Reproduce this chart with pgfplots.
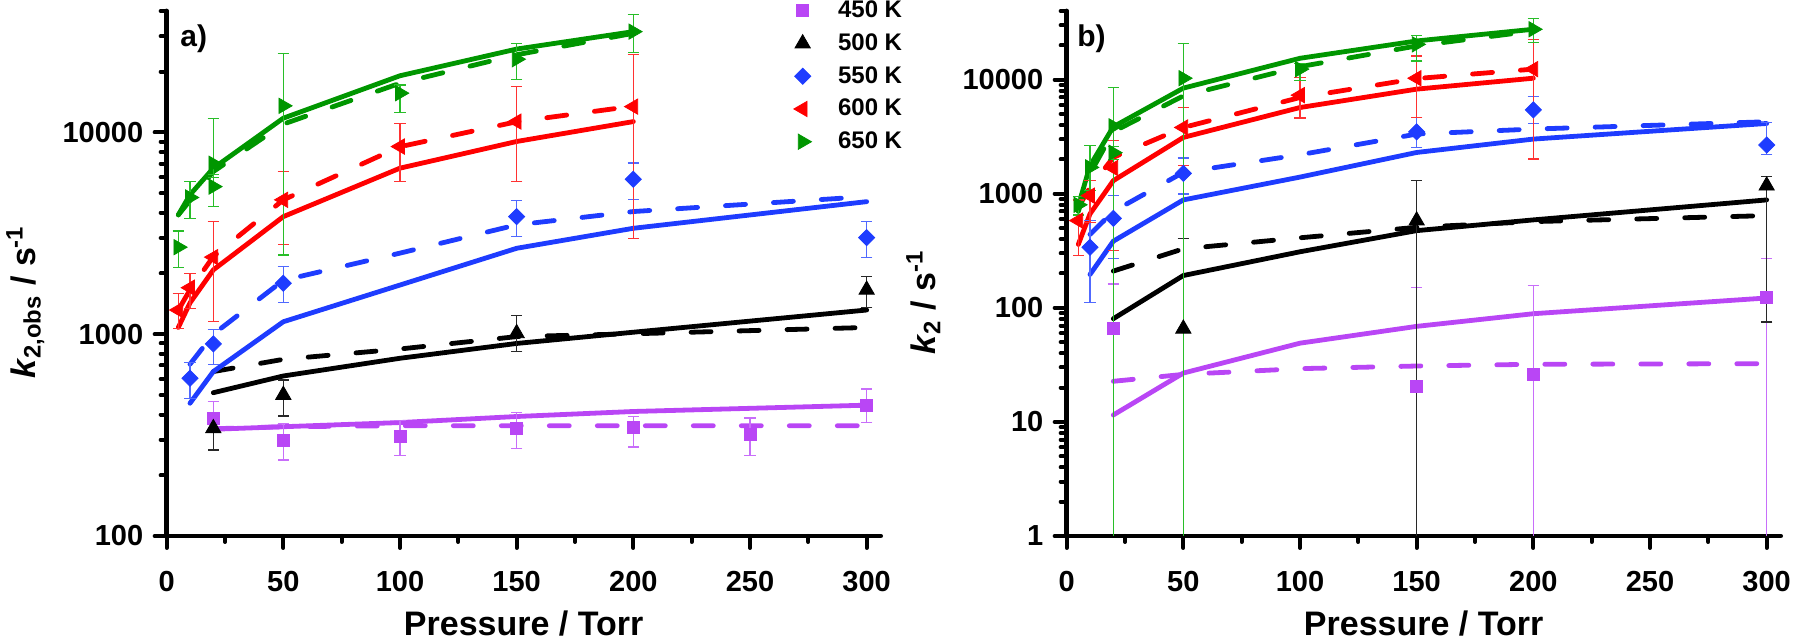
\documentclass[border=0pt]{standalone}
\usepackage{fontspec}
\setmainfont{Liberation Sans}
\usepackage{pgfplots}
\pgfplotsset{compat=1.18}
\definecolor{cP}{RGB}{185,70,245}
\definecolor{cPe}{RGB}{200,110,250}
\definecolor{cK}{RGB}{0,0,0}
\definecolor{cKe}{RGB}{40,40,40}
\definecolor{cB}{RGB}{30,60,255}
\definecolor{cBe}{RGB}{80,105,255}
\definecolor{cR}{RGB}{255,0,0}
\definecolor{cRe}{RGB}{255,50,50}
\definecolor{cG}{RGB}{0,150,0}
\definecolor{cGe}{RGB}{40,190,40}
\pgfplotsset{
  kax/.style={
    scale only axis, width=357pt, height=262.5pt,
    xmin=0, xmax=306,
    axis x line=bottom, axis y line=left,
    axis line style={-, line width=2.4pt, line cap=round},
    tick align=outside, major tick length=6pt, minor tick length=3pt,
    tick style={line width=2pt, line cap=round, black},
    xtick={0,50,100,150,200,250,300},
    xticklabels={0,50,100,150,200,250,300},
    minor xtick={25,75,125,175,225,275},
    ticklabel style={font=\fontsize{14.5}{17}\selectfont\bfseries, inner sep=0pt},
    xticklabel style={anchor=north, yshift=-11.5pt},
    yticklabel style={anchor=east, xshift=-5.5pt},
    xlabel={Pressure / Torr},
    label style={font=\fontsize{17}{20}\selectfont\bfseries},
    xlabel style={at={(axis description cs:0.5,-0.189)}, anchor=base},
    ylabel style={at={(axis description cs:-0.184,0.445)}, anchor=base},
  },
  kln/.style={line width=2.4pt, mark=none, forget plot, line cap=round, line join=round},
  kdl/.style={line width=2.4pt, mark=none, forget plot, line cap=round, dash pattern=on 10pt off 14pt},
  keb/.style={only marks,
    error bars/y dir=both, error bars/y explicit,
    error bars/error bar style={#1, line width=0.6pt},
    error bars/error mark options={#1, rotate=90, mark size=2.8pt, line width=0.6pt}},
}
\begin{document}
\begin{tikzpicture}
\useasboundingbox (0,0) rectangle (898pt,320pt);
% ---------------- panel a ----------------
\begin{semilogyaxis}[kax, at={(83.33pt,52pt)}, anchor=south west,
  ymin=100, ymax=40000,
  ytick={100,1000,10000}, yticklabels={100,1000,10000},
  minor ytick={200,300,400,500,600,700,800,900,2000,3000,4000,5000,6000,7000,8000,9000,20000,30000,40000},
  ylabel={\textit{k}\textsubscript{2,obs} / s\textsuperscript{-1}},
  legend style={at={(axis description cs:1.032,1.022)}, anchor=north east,
    draw=none, fill=none, inner sep=0pt, row sep=5.5pt,
    font=\fontsize{12}{14}\selectfont\bfseries, nodes={inner sep=0.5pt}},
  legend cell align=left,
  legend image code/.code={\draw[#1] plot coordinates {(0pt,0pt)}; \path (-4pt,0pt) (17pt,0pt);},
]
% lines
\addplot[cP, kln] coordinates {(20,338) (50,348) (100,365) (150,391) (200,414) (300,445)};
\addplot[cP, kdl] coordinates {(20,340) (50,348) (100,352) (150,352) (200,352) (300,352)};
\addplot[cK, kln] coordinates {(20,513) (50,621) (100,760) (150,900) (200,1023) (300,1318)};
\addplot[cK, kdl] coordinates {(20,653) (50,751) (100,845) (150,973) (200,1005) (300,1080)};
\addplot[cB, kln] coordinates {(10,455) (20,653) (50,1153) (100,1753) (150,2666) (200,3350) (300,4540)};
\addplot[cB, kdl] coordinates {(10,710) (20,1000) (50,1850) (100,2523) (150,3484) (200,4055) (300,4808)};
\addplot[cR, kln] coordinates {(5,1080) (10,1430) (20,2084) (50,3827) (100,6653) (150,9020) (200,11320)};
\addplot[cR, kdl] coordinates {(5,1318) (10,1660) (20,2427) (50,4635) (100,8500) (150,11300) (200,13500)};
\addplot[cG, kln] coordinates {(5,3908) (10,4910) (20,6650) (50,11770) (100,19100) (150,25900) (200,31600)};
\addplot[cG, kdl] coordinates {(5,3900) (10,4600) (20,6400) (50,11000) (100,17540) (150,24270) (200,31000)};
% marks
\addplot[cP, mark=square*, mark size=3pt, keb=cPe] table[x=x, y=y, y error plus=ep, y error minus=em] {
x y ep em
20 384 79 54
50 299 61 61
100 313 60 63
150 342 66 71
200 346 44 70
250 318 66 67
300 445 90 80
};
\addlegendentry{450 K}
\addplot[cK, mark=triangle*, mark size=4.4pt, keb=cKe] table[x=x, y=y, y error plus=ep, y error minus=em] {
x y ep em
20 342 60 75
50 500 93 107
150 1011 225 191
300 1660 271 300
};
\addlegendentry{500 K}
\addplot[cB, mark=square*, mark size=2.85pt, mark options={rotate=45}, keb=cBe] table[x=x, y=y, y error plus=ep, y error minus=em] {
x y ep em
10 605 117 125
20 895 164 185
50 1790 373 354
150 3826 755 777
200 5864 1186 1198
300 3013 602 602
};
\addlegendentry{550 K}
\addplot[cR, mark=triangle*, mark size=4.4pt, mark options={rotate=90}, keb=cRe] table[x=x, y=y, y error plus=ep, y error minus=em] {
x y ep em
5 1318 279 246
10 1700 304 355
20 2410 1204 1257
50 4635 1765 1861
100 8515 2605 2795
150 11320 5580 5600
200 13430 10870 10436
};
\addlegendentry{600 K}
\addplot[cG, mark=triangle*, mark size=4.4pt, mark options={rotate=-90}, keb=cGe] table[x=x, y=y, y error plus=ep, y error minus=em] {
x y ep em
5 2700 550 563
10 4760 960 1003
20 7000 4770 1000
20 5390 800 1090
50 13550 11150 11078
100 15660 1540 3100
150 23070 4630 4830
200 31600 6700 6700
};
\addlegendentry{650 K}
\node[anchor=north west, inner sep=0pt, font=\fontsize{15}{18}\selectfont\bfseries] at (axis description cs:0.0186,0.975) {a)};
\end{semilogyaxis}
% ---------------- panel b ----------------
\begin{semilogyaxis}[kax, at={(533.33pt,52pt)}, anchor=south west,
  ymin=1, ymax=40000,
  ytick={1,10,100,1000,10000}, yticklabels={1,10,100,1000,10000},
  minor ytick={2,3,4,5,6,7,8,9,20,30,40,50,60,70,80,90,200,300,400,500,600,700,800,900,2000,3000,4000,5000,6000,7000,8000,9000,20000,30000,40000},
  ylabel={\textit{k}\textsubscript{2} / s\textsuperscript{-1}},
]
\addplot[cP, kln] coordinates {(20,11.5) (50,26.8) (100,49) (150,68.8) (200,88.8) (300,122)};
\addplot[cP, kdl] coordinates {(20,22.7) (50,26.1) (100,29.3) (150,30.9) (200,32) (300,32.4)};
\addplot[cK, kln] coordinates {(20,80.3) (50,192) (100,310) (150,475) (200,590) (300,883)};
\addplot[cK, kdl] coordinates {(20,210) (50,329) (100,411) (150,508) (200,570) (300,643)};
\addplot[cB, kln] coordinates {(10,196) (20,384) (50,883) (100,1400) (150,2301) (200,3015) (300,4130)};
\addplot[cB, kdl] coordinates {(10,440) (20,700) (50,1540) (100,2198) (150,3336) (200,3690) (300,4276)};
\addplot[cR, kln] coordinates {(5,360) (10,666) (20,1303) (50,3118) (100,5700) (150,8260) (200,10300)};
\addplot[cR, kdl] coordinates {(5,760) (10,1138) (20,2084) (50,3811) (100,6980) (150,10230) (200,12370)};
\addplot[cG, kln] coordinates {(5,786) (10,1762) (20,3866) (50,8430) (100,15400) (150,21850) (200,27660)};
\addplot[cG, kdl] coordinates {(5,700) (10,1500) (20,3500) (50,7210) (100,13000) (150,19770) (200,26700)};
\addplot[cP, mark=square*, mark size=3pt, keb=cPe] table[x=x, y=y, y error plus=ep, y error minus=em] {
x y ep em
20 65.6 96 65.1
150 20.5 129.5 20
200 26.2 131 25.7
300 124 145 123.5
};
\addplot[cK, mark=triangle*, mark size=4.4pt, keb=cKe] table[x=x, y=y, y error plus=ep, y error minus=em] {
x y ep em
50 65.6 341 65.1
150 582 721 581.5
300 1178 250 1103
};
\addplot[cB, mark=square*, mark size=2.85pt, mark options={rotate=45}, keb=cBe] table[x=x, y=y, y error plus=ep, y error minus=em] {
x y ep em
10 340 242 228
20 609 353 337
50 1509 546 514
150 3492 1174 946
200 5444 1636 1344
300 2673 1544 475
};
\addplot[cR, mark=triangle*, mark size=4.4pt, mark options={rotate=90}, keb=cRe] table[x=x, y=y, y error plus=ep, y error minus=em] {
x y ep em
5 582 301 295
10 962 341 400
20 1680 1235 1360
50 3811 1889 2049
100 7316 3114 2712
150 10300 5850 5634
200 12370 10230 10355
};
\addplot[cG, mark=triangle*, mark size=4.4pt, mark options={rotate=-90}, keb=cGe] table[x=x, y=y, y error plus=ep, y error minus=em] {
x y ep em
5 800 150 150
10 1702 934 637
20 3900 4600 3899.5
20 2290 300 300
50 10300 10560 10299.5
100 12370 1500 2500
150 20400 3800 5800
200 27660 6640 6530
};
\node[anchor=north west, inner sep=0pt, font=\fontsize{15}{18}\selectfont\bfseries] at (axis description cs:0.0144,0.975) {b)};
\end{semilogyaxis}
\end{tikzpicture}
\end{document}
